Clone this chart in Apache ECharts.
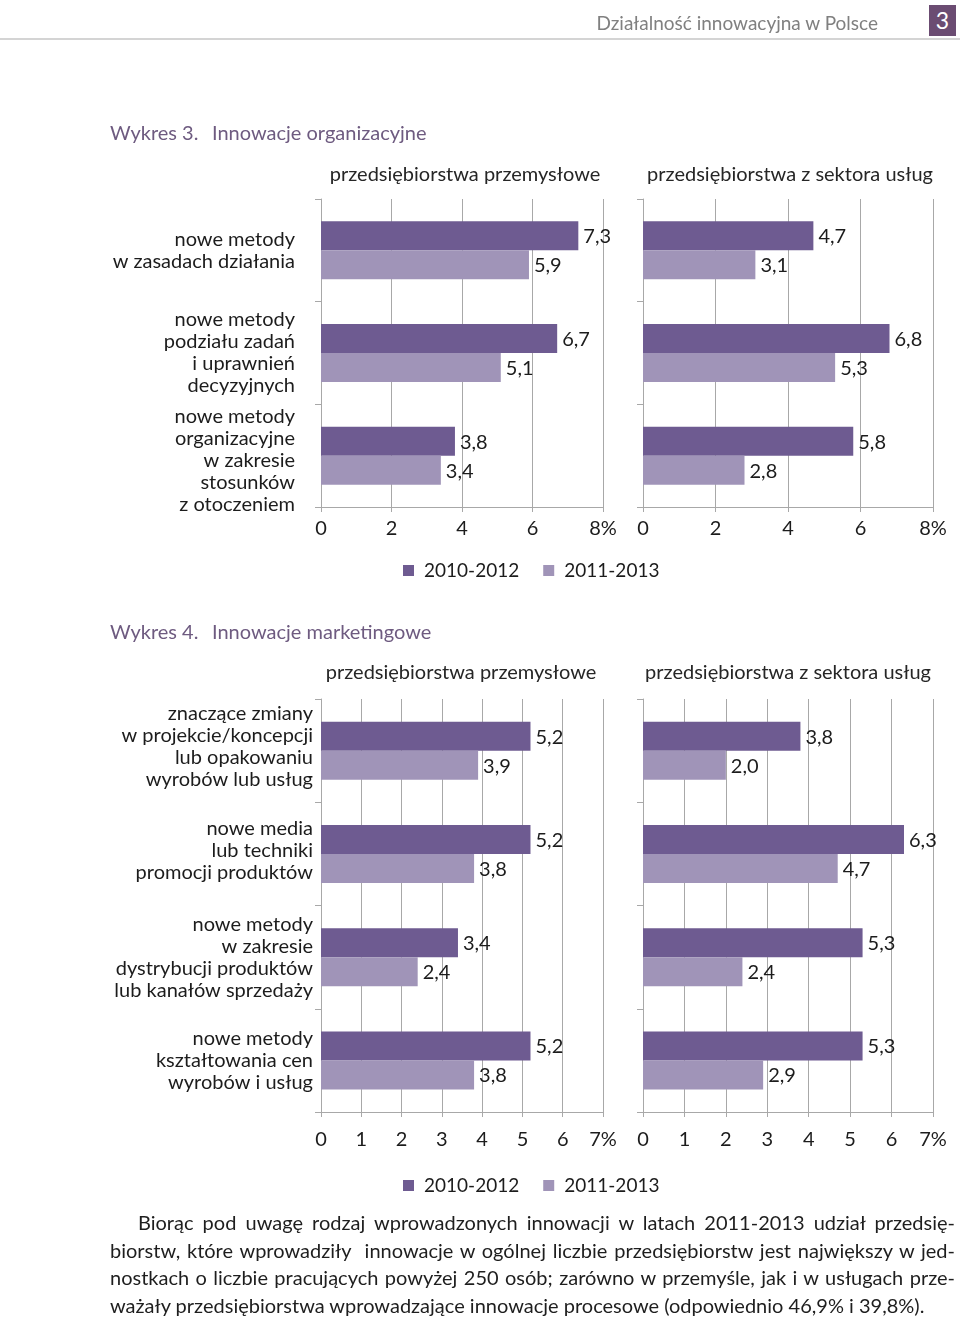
<!DOCTYPE html>
<html><head><meta charset="utf-8">
<script src="https://cdn.jsdelivr.net/npm/echarts@6/dist/echarts.min.js"></script>
<style>
html,body{margin:0;padding:0;background:#fff;}
body{width:960px;height:1318px;position:relative;overflow:hidden;font-family:Lato,"Open Sans",sans-serif;}
#chart{position:absolute;left:0;top:0;width:960px;height:1318px;}
.ov{position:absolute;white-space:nowrap;}
.hdr{right:82px;top:11px;font-size:19px;color:#808080;}
.badge{left:929px;top:5px;width:27px;height:31px;background:#6b4c72;color:#fff;font-size:23px;text-align:center;line-height:31px;}
.rule{left:0;top:38px;width:960px;height:2px;background:#d4d4d4;}
.heading{font-size:20px;color:#6e5b80;}
.para{position:absolute;left:110px;top:1209px;width:845px;font-size:20px;color:#1e1e1e;line-height:27.7px;}
.para div{text-align:justify;text-align-last:justify;}
</style></head>
<body>
<div id="chart"></div>
<div class="ov hdr">Działalność innowacyjna w Polsce</div>
<div class="ov badge">3</div>
<div class="ov rule"></div>
<div class="ov heading" style="left:110px;top:120px;">Wykres 3.</div>
<div class="ov heading" style="left:212px;top:120px;">Innowacje organizacyjne</div>
<div class="ov heading" style="left:110px;top:619px;">Wykres 4.</div>
<div class="ov heading" style="left:212px;top:619px;">Innowacje marketingowe</div>
<div class="para">
<div style="padding-left:28px;">Biorąc pod uwagę rodzaj wprowadzonych innowacji w latach 2011-2013 udział przedsię-</div>
<div>biorstw, które wprowadziły &nbsp;innowacje w ogólnej liczbie przedsiębiorstw jest największy w jed-</div>
<div>nostkach o liczbie pracujących powyżej 250 osób; zarówno w przemyśle, jak i w usługach prze-</div>
<div style="text-align-last:left;">ważały przedsiębiorstwa wprowadzające innowacje procesowe (odpowiednio 46,9% i 39,8%).</div>
</div>
<script>
// ---- data ----
const seriesNames = ['2010-2012', '2011-2013'];
const panelTitles = ['przedsiębiorstwa przemysłowe', 'przedsiębiorstwa z sektora usług'];

const categories3 = [
  'nowe metody\nw zasadach działania',
  'nowe metody\npodziału zadań\ni uprawnień\ndecyzyjnych',
  'nowe metody\norganizacyjne\nw zakresie\nstosunków\nz otoczeniem'
];
const ind3_2010 = [7.3, 6.7, 3.8];
const ind3_2011 = [5.9, 5.1, 3.4];
const svc3_2010 = [4.7, 6.8, 5.8];
const svc3_2011 = [3.1, 5.3, 2.8];
const axisMax3 = 8, axisStep3 = 2;

const categories4 = [
  'znaczące zmiany\nw projekcie/koncepcji\nlub opakowaniu\nwyrobów lub usług',
  'nowe media\nlub techniki\npromocji produktów',
  'nowe metody\nw zakresie\ndystrybucji produktów\nlub kanałów sprzedaży',
  'nowe metody\nkształtowania cen\nwyrobów i usług'
];
const ind4_2010 = [5.2, 5.2, 3.4, 5.2];
const ind4_2011 = [3.9, 3.8, 2.4, 3.8];
const svc4_2010 = [3.8, 6.3, 5.3, 5.3];
const svc4_2011 = [2.0, 4.7, 2.4, 2.9];
const axisMax4 = 7, axisStep4 = 1;

// ---- styling ----
const FONT = 'Lato, "Open Sans", sans-serif';
const C_DARK = '#6e5b91';
const C_LIGHT = '#a094b8';
const GRIDC = '#a8a8a8';
const TXT = '#1c1c1c';

const grids = [
  {left: 321, top: 199, width: 282, height: 308},
  {left: 643, top: 199, width: 290, height: 308},
  {left: 321, top: 699, width: 282, height: 413},
  {left: 643, top: 699, width: 290, height: 413}
];

// label vertical nudges: positive = push text down (spacer above), negative = push up (spacer below)
const nudge3 = [0, 0, 10];
const nudge4 = [-8, -6, 0, 0];

const panels = [
  {cats: categories3, nudge: nudge3, d: [ind3_2010, ind3_2011], max: axisMax3, step: axisStep3, labels: true, margin: 26, xm: 12},
  {cats: categories3, nudge: nudge3, d: [svc3_2010, svc3_2011], max: axisMax3, step: axisStep3, labels: false, margin: 26, xm: 12},
  {cats: categories4, nudge: nudge4, d: [ind4_2010, ind4_2011], max: axisMax4, step: axisStep4, labels: true, margin: 8, xm: 18},
  {cats: categories4, nudge: nudge4, d: [svc4_2010, svc4_2011], max: axisMax4, step: axisStep4, labels: false, margin: 8, xm: 18}
];

const xAxes = [], yAxes = [], series = [];
panels.forEach((p, i) => {
  const rich = {};
  p.nudge.forEach((n, j) => { if (n) rich['s' + j] = {lineHeight: Math.abs(n), fontSize: 1}; });
  xAxes.push({
    gridIndex: i, type: 'value', min: 0, max: p.max, interval: p.step,
    axisLine: {show: true, lineStyle: {color: GRIDC, width: 1}},
    axisTick: {show: true, length: 5, lineStyle: {color: GRIDC}},
    splitLine: {show: true, lineStyle: {color: GRIDC, width: 1}},
    axisLabel: {
      fontSize: 20, color: TXT, fontFamily: FONT, margin: p.xm,
      formatter: v => (v === p.max ? v + '%' : String(v))
    }
  });
  yAxes.push({
    gridIndex: i, type: 'category', inverse: true, data: p.cats,
    axisLine: {show: true, lineStyle: {color: GRIDC, width: 1}},
    axisTick: {show: true, length: 6, lineStyle: {color: GRIDC}},
    splitLine: {show: false},
    axisLabel: {
      show: p.labels, interval: 0, fontSize: 20, lineHeight: 22, color: TXT, fontFamily: FONT,
      margin: p.margin, align: 'right', rich: rich,
      formatter: (v, j) => {
        const n = p.nudge[j];
        if (n > 0) return '{s' + j + '| }\n' + v;
        if (n < 0) return v + '\n{s' + j + '| }';
        return v;
      }
    }
  });
  p.d.forEach((vals, k) => {
    series.push({
      name: seriesNames[k], type: 'bar', xAxisIndex: i, yAxisIndex: i,
      data: vals, barWidth: 29, barGap: '0%',
      itemStyle: {color: k === 0 ? C_DARK : C_LIGHT},
      label: {
        show: true, position: 'right', distance: 5, fontSize: 20, color: TXT, fontFamily: FONT,
        offset: [0, 1],
        formatter: prm => prm.value.toFixed(1).replace('.', ',')
      },
      animation: false
    });
  });
});

const legendBase = {
  icon: 'rect', itemWidth: 11, itemHeight: 11, itemGap: 24, left: 398,
  data: seriesNames, selectedMode: false,
  textStyle: {fontSize: 19, color: TXT, fontFamily: FONT, padding: [0, 0, 0, 5]}
};

const titleStyle = (x, y, t) => ({
  type: 'text', x: x, y: y,
  style: {text: t, fontSize: 20, fill: '#262626', fontFamily: FONT, textAlign: 'center', textVerticalAlign: 'middle'}
});

const chart = echarts.init(document.getElementById('chart'), null, {renderer: 'canvas'});
chart.setOption({
  animation: false,
  backgroundColor: '#fff',
  grid: grids,
  xAxis: xAxes,
  yAxis: yAxes,
  series: series,
  legend: [
    Object.assign({}, legendBase, {top: 556}),
    Object.assign({}, legendBase, {top: 1171})
  ],
  graphic: [
    titleStyle(465, 175, panelTitles[0]),
    titleStyle(790, 175, panelTitles[1]),
    titleStyle(461, 673, panelTitles[0]),
    titleStyle(788, 673, panelTitles[1])
  ]
});
</script>
</body></html>
